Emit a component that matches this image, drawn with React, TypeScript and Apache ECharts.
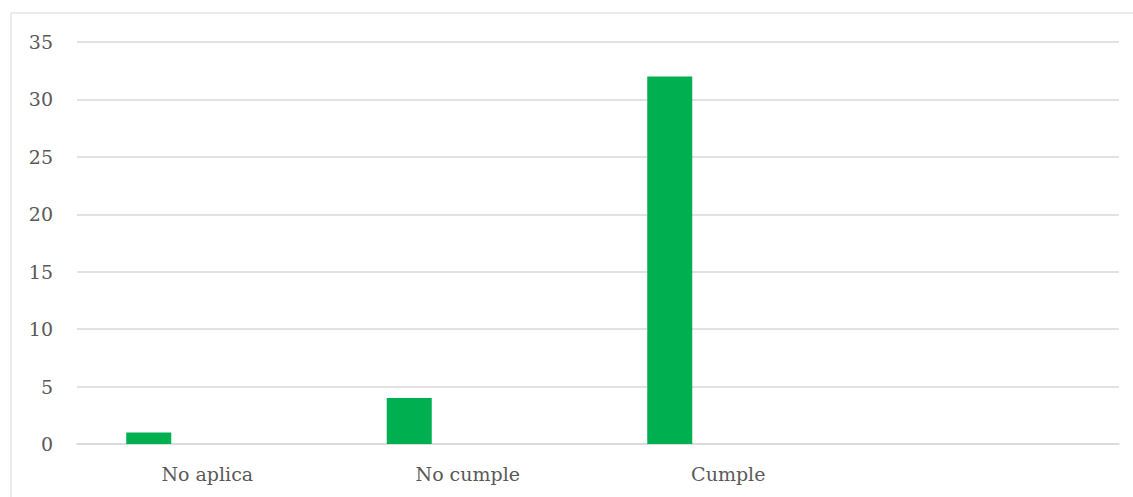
import React, { useEffect, useRef } from "react";
import * as echarts from "echarts";

const categories = ["No aplica", "No cumple", "Cumple", ""];
const seriesMain = [1, 4, 32, null];
const seriesB = [null, null, null, null];
const seriesC = [null, null, null, null];
const yTicks = { min: 0, max: 35, interval: 5 };

export default function App() {
  const ref = useRef<HTMLDivElement>(null);
  useEffect(() => {
    const chart = echarts.init(ref.current!, undefined, { renderer: "svg" });
    const font = "DejaVu Serif";
    chart.setOption({
      animation: false,
      backgroundColor: "#ffffff",
      grid: { left: 77, right: 14, top: 42, bottom: 53, containLabel: false },
      xAxis: {
        type: "category",
        data: categories,
        axisLine: { show: true, lineStyle: { color: "#d9d9d9", width: 1.5 } },
        axisTick: { show: false },
        axisLabel: { color: "#595959", fontFamily: font, fontSize: 19, margin: 20 },
      },
      yAxis: {
        type: "value",
        min: yTicks.min,
        max: yTicks.max,
        interval: yTicks.interval,
        axisLine: { show: false },
        axisTick: { show: false },
        axisLabel: { color: "#595959", fontFamily: font, fontSize: 19, margin: 24 },
        splitLine: { lineStyle: { color: "#d9d9d9", width: 1.5 } },
      },
      graphic: [
        { type: "line", shape: { x1: 11, y1: 13, x2: 11, y2: 497 }, style: { stroke: "#d9d9d9", lineWidth: 1 } },
        { type: "line", shape: { x1: 11, y1: 13, x2: 1133, y2: 13 }, style: { stroke: "#d9d9d9", lineWidth: 1 } },
      ],
      series: [
        { type: "bar", data: seriesMain, barWidth: 45, barGap: "30%", itemStyle: { color: "#00b050" } },
        { type: "bar", data: seriesB, barWidth: 45, barGap: "30%", itemStyle: { color: "#00b050" } },
        { type: "bar", data: seriesC, barWidth: 45, barGap: "30%", itemStyle: { color: "#00b050" } },
      ],
    });
    return () => chart.dispose();
  }, []);
  return <div ref={ref} style={{ position: "fixed", left: 0, top: 0, width: 1133, height: 497 }} />;
}
